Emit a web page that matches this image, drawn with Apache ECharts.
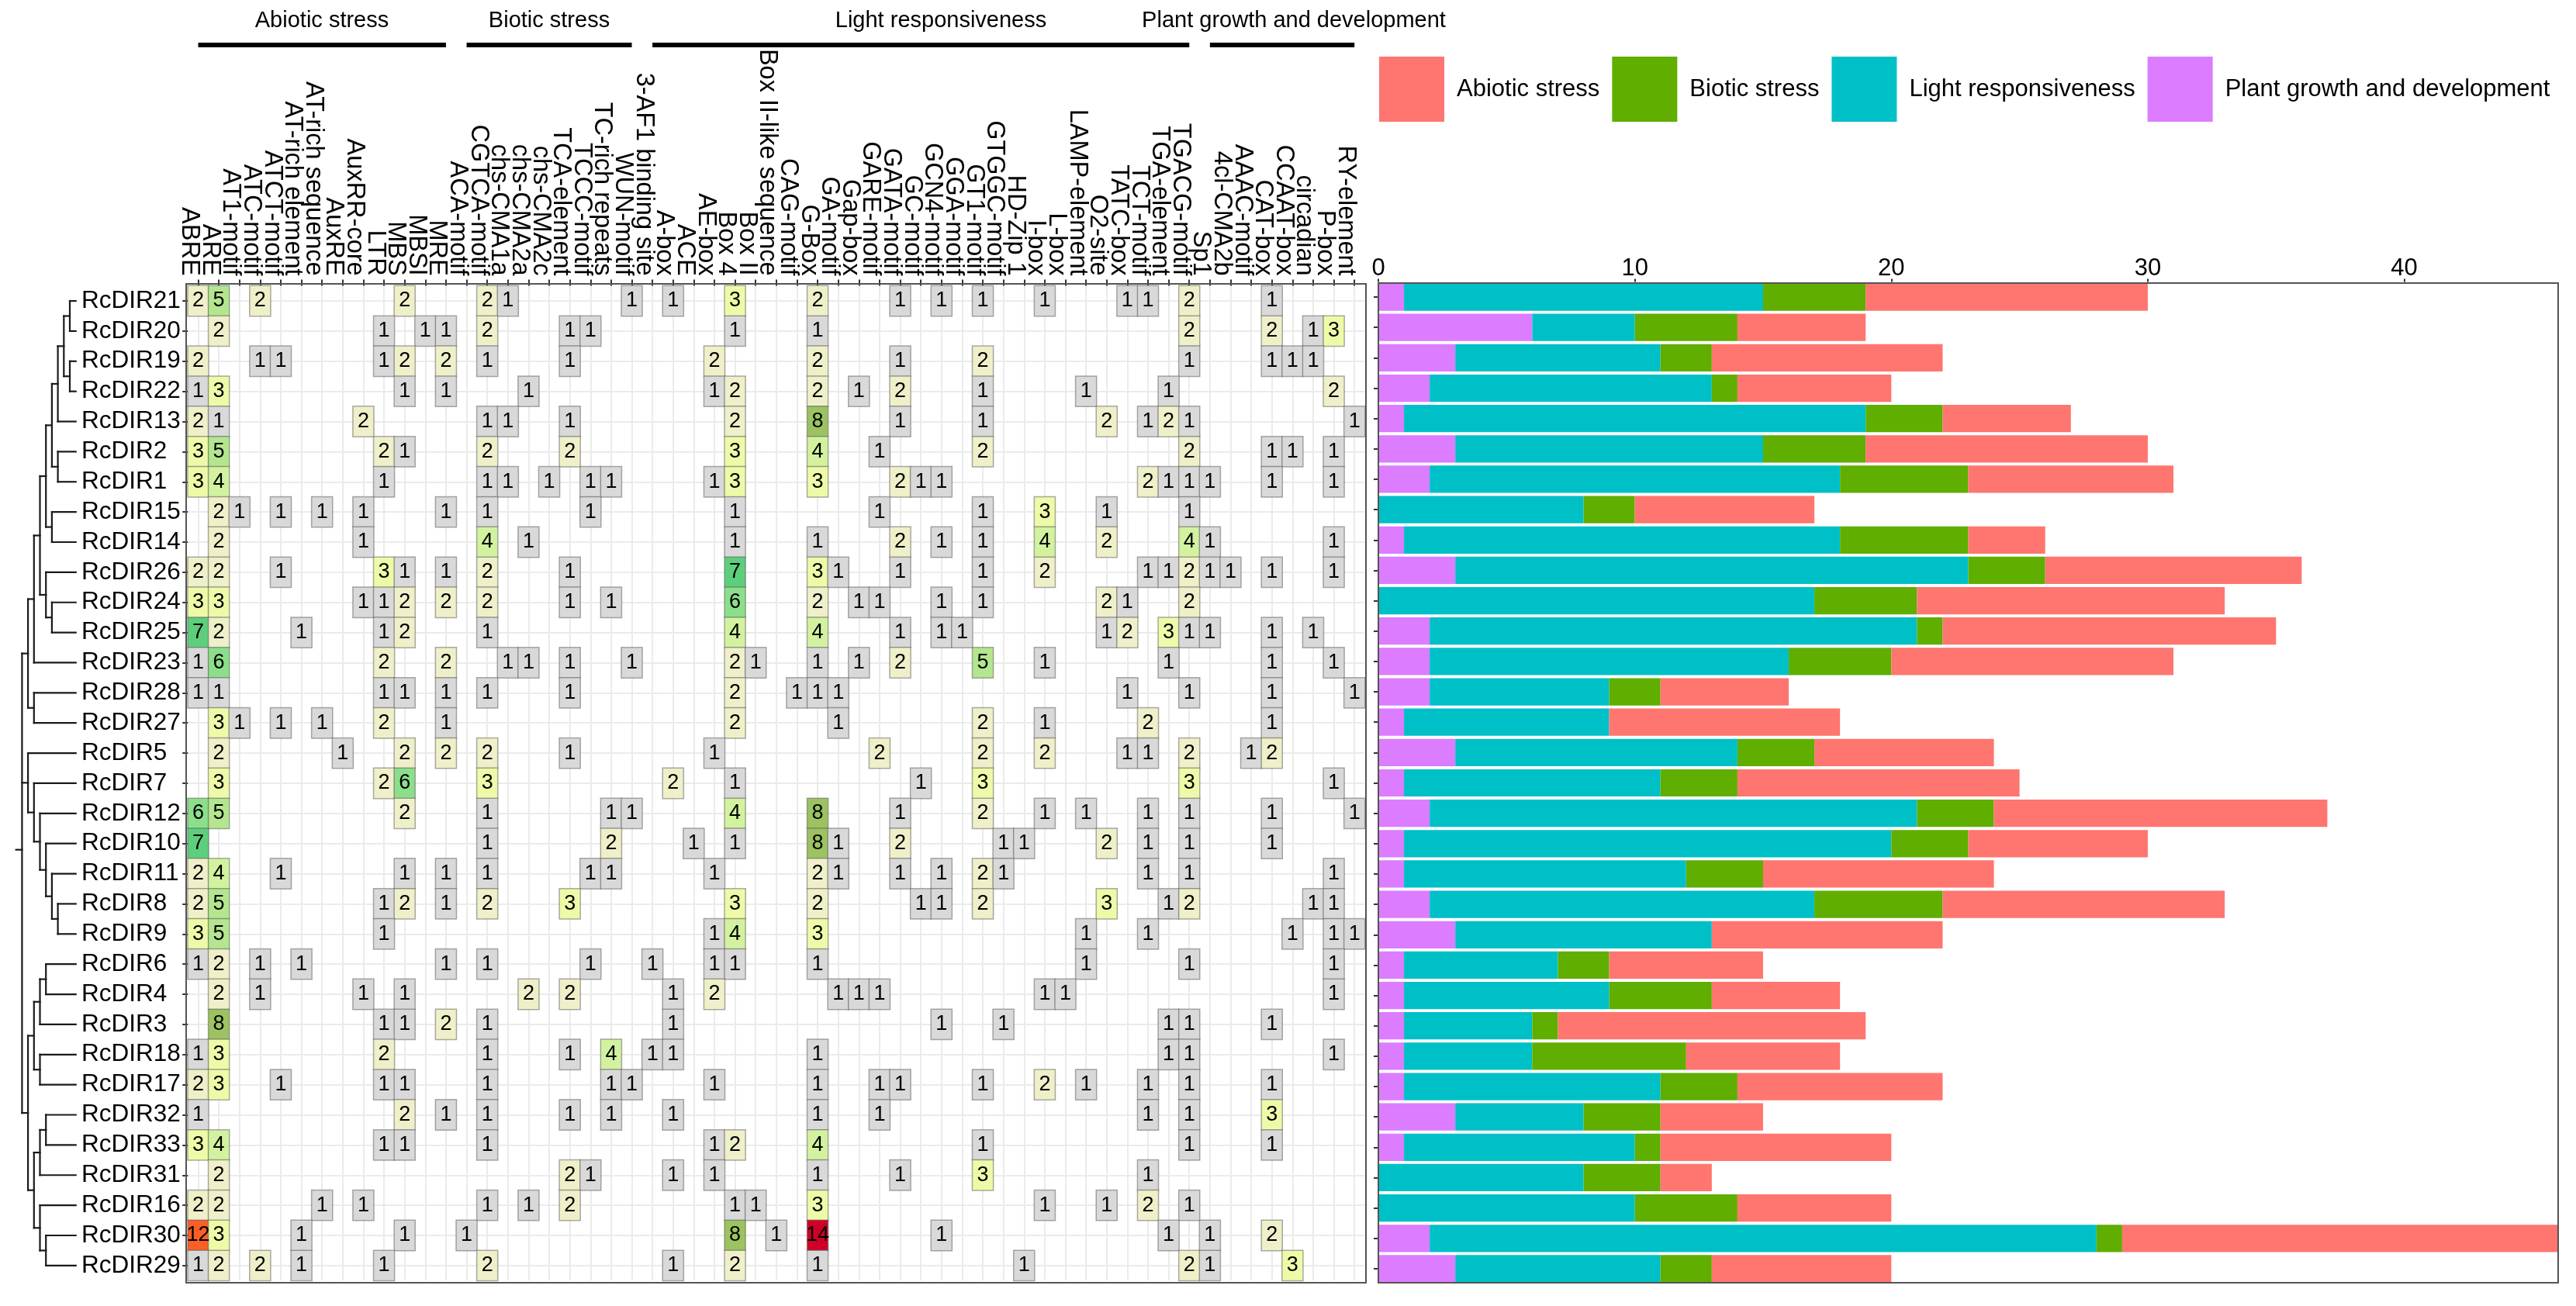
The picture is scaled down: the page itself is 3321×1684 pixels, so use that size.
<!DOCTYPE html>
<html><head><meta charset="utf-8">
<style>html,body{margin:0;padding:0;background:#fff}#c{width:3321px;height:1684px}</style>
<script src="https://cdn.jsdelivr.net/npm/echarts@6/dist/echarts.min.js"></script>
</head><body><div id="c"></div>
<script>
const elements = ["ABRE","ARE","AT1-motif","ATC-motif","ATCT-motif","AT-rich element","AT-rich sequence","AuxRE","AuxRR-core","LTR","MBS","MBSI","MRE","ACA-motif","CGTCA-motif","chs-CMA1a","chs-CMA2a","chs-CMA2c","TCA-element","TCCC-motif","TC-rich repeats","WUN-motif","3-AF1 binding site","A-box","ACE","AE-box","Box 4","Box II","Box II-like sequence","CAG-motif","G-Box","GA-motif","Gap-box","GARE-motif","GATA-motif","GC-motif","GCN4-motif","GGA-motif","GT1-motif","GTGGC-motif","HD-Zip 1","I-box","L-box","LAMP-element","O2-site","TATC-box","TCT-motif","TGA-element","TGACG-motif","Sp1","4cl-CMA2b","AAAC-motif","CAT-box","CCAAT-box","circadian","P-box","RY-element"];
const genes = ["RcDIR21","RcDIR20","RcDIR19","RcDIR22","RcDIR13","RcDIR2","RcDIR1","RcDIR15","RcDIR14","RcDIR26","RcDIR24","RcDIR25","RcDIR23","RcDIR28","RcDIR27","RcDIR5","RcDIR7","RcDIR12","RcDIR10","RcDIR11","RcDIR8","RcDIR9","RcDIR6","RcDIR4","RcDIR3","RcDIR18","RcDIR17","RcDIR32","RcDIR33","RcDIR31","RcDIR16","RcDIR30","RcDIR29"];

// [element index, count] per gene
const RcDIR21=[[0,2],[1,5],[3,2],[10,2],[14,2],[15,1],[21,1],[23,1],[26,3],[30,2],[34,1],[36,1],[38,1],[41,1],[45,1],[46,1],[48,2],[52,1]];
const RcDIR20=[[1,2],[9,1],[11,1],[12,1],[14,2],[18,1],[19,1],[26,1],[30,1],[48,2],[52,2],[54,1],[55,3]];
const RcDIR19=[[0,2],[3,1],[4,1],[9,1],[10,2],[12,2],[14,1],[18,1],[25,2],[30,2],[34,1],[38,2],[48,1],[52,1],[53,1],[54,1]];
const RcDIR22=[[0,1],[1,3],[10,1],[12,1],[16,1],[25,1],[26,2],[30,2],[32,1],[34,2],[38,1],[43,1],[47,1],[55,2]];
const RcDIR13=[[0,2],[1,1],[8,2],[14,1],[15,1],[18,1],[26,2],[30,8],[34,1],[38,1],[44,2],[46,1],[47,2],[48,1],[56,1]];
const RcDIR2=[[0,3],[1,5],[9,2],[10,1],[14,2],[18,2],[26,3],[30,4],[33,1],[38,2],[48,2],[52,1],[53,1],[55,1]];
const RcDIR1=[[0,3],[1,4],[9,1],[14,1],[15,1],[17,1],[19,1],[20,1],[25,1],[26,3],[30,3],[34,2],[35,1],[36,1],[46,2],[47,1],[48,1],[49,1],[52,1],[55,1]];
const RcDIR15=[[1,2],[2,1],[4,1],[6,1],[8,1],[12,1],[14,1],[19,1],[26,1],[33,1],[38,1],[41,3],[44,1],[48,1]];
const RcDIR14=[[1,2],[8,1],[14,4],[16,1],[26,1],[30,1],[34,2],[36,1],[38,1],[41,4],[44,2],[48,4],[49,1],[55,1]];
const RcDIR26=[[0,2],[1,2],[4,1],[9,3],[10,1],[12,1],[14,2],[18,1],[26,7],[30,3],[31,1],[34,1],[38,1],[41,2],[46,1],[47,1],[48,2],[49,1],[50,1],[52,1],[55,1]];
const RcDIR24=[[0,3],[1,3],[8,1],[9,1],[10,2],[12,2],[14,2],[18,1],[20,1],[26,6],[30,2],[32,1],[33,1],[36,1],[38,1],[44,2],[45,1],[48,2]];
const RcDIR25=[[0,7],[1,2],[5,1],[9,1],[10,2],[14,1],[26,4],[30,4],[34,1],[36,1],[37,1],[44,1],[45,2],[47,3],[48,1],[49,1],[52,1],[54,1]];
const RcDIR23=[[0,1],[1,6],[9,2],[12,2],[15,1],[16,1],[18,1],[21,1],[26,2],[27,1],[30,1],[32,1],[34,2],[38,5],[41,1],[47,1],[52,1],[55,1]];
const RcDIR28=[[0,1],[1,1],[9,1],[10,1],[12,1],[14,1],[18,1],[26,2],[29,1],[30,1],[31,1],[45,1],[48,1],[52,1],[56,1]];
const RcDIR27=[[1,3],[2,1],[4,1],[6,1],[9,2],[12,1],[26,2],[31,1],[38,2],[41,1],[46,2],[52,1]];
const RcDIR5=[[1,2],[7,1],[10,2],[12,2],[14,2],[18,1],[25,1],[33,2],[38,2],[41,2],[45,1],[46,1],[48,2],[51,1],[52,2]];
const RcDIR7=[[1,3],[9,2],[10,6],[14,3],[23,2],[26,1],[35,1],[38,3],[48,3],[55,1]];
const RcDIR12=[[0,6],[1,5],[10,2],[14,1],[20,1],[21,1],[26,4],[30,8],[34,1],[38,2],[41,1],[43,1],[46,1],[48,1],[52,1],[56,1]];
const RcDIR10=[[0,7],[14,1],[20,2],[24,1],[26,1],[30,8],[31,1],[34,2],[39,1],[40,1],[44,2],[46,1],[48,1],[52,1]];
const RcDIR11=[[0,2],[1,4],[4,1],[10,1],[12,1],[14,1],[19,1],[20,1],[25,1],[30,2],[31,1],[34,1],[36,1],[38,2],[39,1],[46,1],[48,1],[55,1]];
const RcDIR8=[[0,2],[1,5],[9,1],[10,2],[12,1],[14,2],[18,3],[26,3],[30,2],[35,1],[36,1],[38,2],[44,3],[47,1],[48,2],[54,1],[55,1]];
const RcDIR9=[[0,3],[1,5],[9,1],[25,1],[26,4],[30,3],[43,1],[46,1],[53,1],[55,1],[56,1]];
const RcDIR6=[[0,1],[1,2],[3,1],[5,1],[12,1],[14,1],[19,1],[22,1],[25,1],[26,1],[30,1],[43,1],[48,1],[55,1]];
const RcDIR4=[[1,2],[3,1],[8,1],[10,1],[16,2],[18,2],[23,1],[25,2],[31,1],[32,1],[33,1],[41,1],[42,1],[55,1]];
const RcDIR3=[[1,8],[9,1],[10,1],[12,2],[14,1],[23,1],[36,1],[39,1],[47,1],[48,1],[52,1]];
const RcDIR18=[[0,1],[1,3],[9,2],[14,1],[18,1],[20,4],[22,1],[23,1],[30,1],[47,1],[48,1],[55,1]];
const RcDIR17=[[0,2],[1,3],[4,1],[9,1],[10,1],[14,1],[20,1],[21,1],[25,1],[30,1],[33,1],[34,1],[38,1],[41,2],[43,1],[46,1],[48,1],[52,1]];
const RcDIR32=[[0,1],[10,2],[12,1],[14,1],[18,1],[20,1],[23,1],[30,1],[33,1],[46,1],[48,1],[52,3]];
const RcDIR33=[[0,3],[1,4],[9,1],[10,1],[14,1],[25,1],[26,2],[30,4],[38,1],[48,1],[52,1]];
const RcDIR31=[[1,2],[18,2],[19,1],[23,1],[25,1],[30,1],[34,1],[38,3],[46,1]];
const RcDIR16=[[0,2],[1,2],[6,1],[8,1],[14,1],[16,1],[18,2],[26,1],[27,1],[30,3],[41,1],[44,1],[46,2],[48,1]];
const RcDIR30=[[0,12],[1,3],[5,1],[10,1],[13,1],[26,8],[28,1],[30,14],[36,1],[47,1],[49,1],[52,2]];
const RcDIR29=[[0,1],[1,2],[3,2],[5,1],[9,1],[14,2],[23,1],[26,2],[30,1],[40,1],[48,2],[49,1],[53,3]];
const rows=[RcDIR21,RcDIR20,RcDIR19,RcDIR22,RcDIR13,RcDIR2,RcDIR1,RcDIR15,RcDIR14,RcDIR26,RcDIR24,RcDIR25,RcDIR23,RcDIR28,RcDIR27,RcDIR5,RcDIR7,RcDIR12,RcDIR10,RcDIR11,RcDIR8,RcDIR9,RcDIR6,RcDIR4,RcDIR3,RcDIR18,RcDIR17,RcDIR32,RcDIR33,RcDIR31,RcDIR16,RcDIR30,RcDIR29];

// stacked bars, same gene order
const plantGrowth=[1,6,3,2,1,3,2,0,1,3,0,2,2,2,1,3,1,2,1,1,2,3,1,1,1,1,1,3,1,0,0,2,3];
const lightResp=[14,4,8,11,18,12,16,8,17,20,17,19,14,7,8,11,10,19,19,11,15,10,6,8,5,5,10,5,9,8,10,26,8];
const bioticStress=[4,4,2,1,3,4,5,2,5,3,4,1,4,2,0,3,3,3,3,3,5,0,2,4,1,6,3,3,1,3,4,1,2];
const abioticStress=[11,5,9,6,5,11,8,7,3,10,12,13,11,5,9,7,11,13,7,9,11,9,6,5,12,6,8,4,9,2,6,17,7];
const groupNames=["Abiotic stress","Biotic stress","Light responsiveness","Plant growth and development"];
const groupColors=["#FE766F","#5FAE00","#00C0C7","#DC7CFF"];
// bracket first/last element of each group
const groupSpans=[["ABRE","MRE"],["ACA-motif","WUN-motif"],["3-AF1 binding site","TGACG-motif"],["Sp1","RY-element"]];
const groupTitleX=[415,708,1213,1668];
const cellColors={1:"#d9d9d9",2:"#efefc9",3:"#eefaa8",4:"#d2f2a0",5:"#b3e68f",6:"#8cdf8a",7:"#5dcf7c",8:"#9dc261",12:"#fb5f25",14:"#cf0027"};

// clustering tree: [level, ...children]; tips are gene names (level 10)
const tree=[1,
  [2,
    [3,
      [4,
        [5,
          [6,
            [7,[8,[9,"RcDIR21","RcDIR20"],[9,"RcDIR19","RcDIR22"]],"RcDIR13"],
            [7,"RcDIR2","RcDIR1"]],
          [6,"RcDIR15","RcDIR14"]],
        [5,"RcDIR26",[6,"RcDIR24","RcDIR25"]]],
      "RcDIR23"],
    [3,"RcDIR28","RcDIR27"]],
  [2,"RcDIR5",[3,"RcDIR7",[4,"RcDIR12",[5,"RcDIR10",[6,"RcDIR11",[7,"RcDIR8","RcDIR9"]]]]]],
  [2,
    [3,[4,[5,"RcDIR6","RcDIR4"],"RcDIR3"],[4,"RcDIR18","RcDIR17"]],
    [3,[4,[5,"RcDIR32","RcDIR33"],"RcDIR31"],[4,"RcDIR16",[5,"RcDIR30","RcDIR29"]]]]
];

const FONT='"Liberation Sans", Arial, sans-serif';
const segs=[];
function walk(n){
  if(typeof n==='string') return {lv:10,y:genes.indexOf(n)};
  const lv=n[0], kids=n.slice(1).map(walk);
  const ys=kids.map(k=>k.y);
  segs.push([lv,Math.min(...ys),lv,Math.max(...ys)]);
  kids.forEach(k=>segs.push([lv,k.y,k.lv,k.y]));
  return {lv,y:ys.reduce((a,b)=>a+b,0)/ys.length};
}
const rootNode=walk(tree);
segs.push([0,rootNode.y,1,rootNode.y]);

const cells=[];
rows.forEach((r,y)=>r.forEach(([x,v])=>cells.push({value:[x,y,v],itemStyle:{color:cellColors[v]}})));

const hm={left:242.2,top:368.6,width:1517.3,height:1282.7};
const bar={left:1777,top:363.5,width:1521,height:1292};
const chart=echarts.init(document.getElementById('c'),null,{renderer:'canvas'});
const stack=(name,data,color)=>({name,type:'bar',stack:'t',xAxisIndex:1,yAxisIndex:1,barWidth:'90%',data,itemStyle:{color},emphasis:{disabled:true}});
const option={
  animation:false,backgroundColor:'#fff',textStyle:{fontFamily:FONT},
  grid:[
    {...hm,containLabel:false},
    {...bar,containLabel:false},
    {left:20.7,top:hm.top,width:77,height:hm.height}
  ],
  xAxis:[
    {gridIndex:0,type:'category',position:'top',data:elements,
      axisLine:{show:false},
      axisTick:{show:true,alignWithLabel:true,length:8,lineStyle:{color:'#333',width:2}},
      splitLine:{show:true,alignWithLabel:true,lineStyle:{color:'#ebebeb',width:2}},
      axisLabel:{interval:0,rotate:90,margin:13,fontSize:32.5,color:'#000',fontFamily:FONT,verticalAlign:'top',lineHeight:23}},
    {gridIndex:1,type:'value',position:'top',min:0,max:46,interval:10,
      axisLine:{show:false},splitLine:{show:false},
      axisTick:{show:true,length:4,lineStyle:{color:'#333',width:2}},
      axisLabel:{margin:2,fontSize:31,color:'#000',fontFamily:FONT,showMaxLabel:false}},
    {gridIndex:2,type:'value',min:0,max:10,show:false}
  ],
  yAxis:[
    {gridIndex:0,type:'category',inverse:true,data:genes,
      axisLine:{show:false},
      axisTick:{show:true,alignWithLabel:true,length:7,lineStyle:{color:'#333',width:2}},
      splitLine:{show:true,alignWithLabel:true,lineStyle:{color:'#ebebeb',width:2}},
      axisLabel:{interval:0,align:'left',margin:137.2,fontSize:31.5,color:'#000',fontFamily:FONT}},
    {gridIndex:1,type:'category',inverse:true,data:genes,
      axisLine:{show:false},splitLine:{show:false},
      axisTick:{show:true,alignWithLabel:true,length:6,lineStyle:{color:'#333',width:2}},
      axisLabel:{show:false}},
    {gridIndex:2,type:'value',inverse:true,min:-0.5,max:32.5,show:false}
  ],
  legend:{left:1778,top:73,padding:0,width:1540,orient:'horizontal',itemWidth:84,itemHeight:84,itemGap:16,icon:'rect',
    selectedMode:false,data:groupNames,
    textStyle:{fontSize:31,color:'#000',fontFamily:FONT,padding:[0,0,0,11]}},
  series:[
    {type:'heatmap',xAxisIndex:0,yAxisIndex:0,data:cells,progressive:0,
      itemStyle:{borderColor:'rgba(90,90,90,0.5)',borderWidth:1.5},
      label:{show:true,fontSize:27,color:'#000',fontFamily:FONT,formatter:p=>String(p.value[2])},
      emphasis:{disabled:true}},
    stack(groupNames[3],plantGrowth,groupColors[3]),
    stack(groupNames[2],lightResp,groupColors[2]),
    stack(groupNames[1],bioticStress,groupColors[1]),
    stack(groupNames[0],abioticStress,groupColors[0]),
    {type:'custom',xAxisIndex:2,yAxisIndex:2,data:segs,clip:false,silent:true,
      encode:{x:[0,2],y:[1,3]},
      renderItem:(p,api)=>{
        const a=api.coord([api.value(0),api.value(1)]),b=api.coord([api.value(2),api.value(3)]);
        return {type:'line',shape:{x1:a[0],y1:a[1],x2:b[0],y2:b[1]},style:{stroke:'#1a1a1a',lineWidth:2.2,lineCap:'square'}};
      }}
  ]
};
chart.setOption(option);
const px=n=>chart.convertToPixel({xAxisIndex:0},n);
const frame=(x,y,w,h)=>({type:'rect',silent:true,z:50,shape:{x,y,width:w,height:h},style:{fill:null,stroke:'#555',lineWidth:2}});
const graphics=[frame(240,366,1521,1288),frame(1777,365,1521,1289)];
groupSpans.forEach((s,i)=>{
  graphics.push({type:'rect',silent:true,shape:{x:px(s[0]),y:55,width:px(s[1])-px(s[0]),height:6},style:{fill:'#000'}});
  graphics.push({type:'text',silent:true,style:{x:groupTitleX[i],y:27,text:groupNames[i],fontSize:29,fontFamily:FONT,fill:'#000',align:'center',verticalAlign:'middle'}});
});
chart.setOption({graphic:graphics});
</script></body></html>
